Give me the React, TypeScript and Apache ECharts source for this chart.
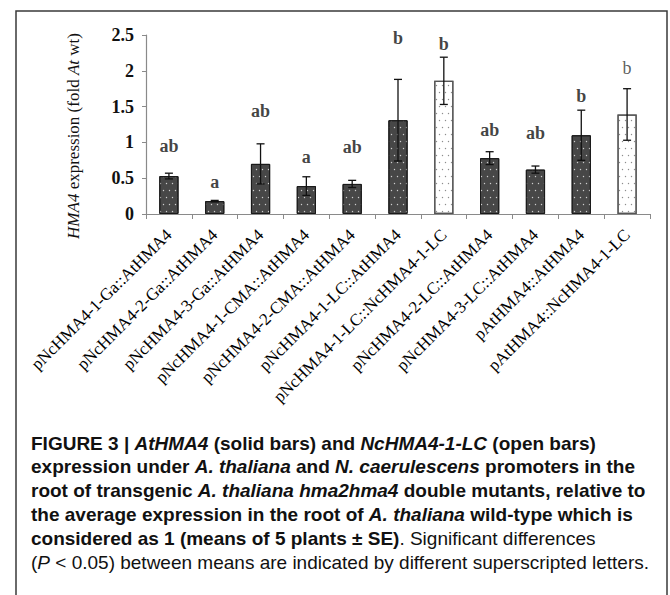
import React, { useEffect, useRef } from "react";
import * as echarts from "echarts";

// Transgenic constructs (promoter::coding sequence)
const constructs = [
  "pNcHMA4-1-Ga::AtHMA4",
  "pNcHMA4-2-Ga::AtHMA4",
  "pNcHMA4-3-Ga::AtHMA4",
  "pNcHMA4-1-CMA::AtHMA4",
  "pNcHMA4-2-CMA::AtHMA4",
  "pNcHMA4-1-LC::AtHMA4",
  "pNcHMA4-1-LC::NcHMA4-1-LC",
  "pNcHMA4-2-LC::AtHMA4",
  "pNcHMA4-3-LC::AtHMA4",
  "pAtHMA4::AtHMA4",
  "pAtHMA4::NcHMA4-1-LC",
];

// HMA4 expression, fold of A. thaliana wild type (mean of 5 plants)
const meanExpression = [0.53, 0.18, 0.7, 0.39, 0.42, 1.31, 1.86, 0.78, 0.62, 1.1, 1.39];
// Standard error of the mean
const standardError = [0.04, 0.01, 0.28, 0.13, 0.05, 0.57, 0.33, 0.09, 0.05, 0.35, 0.36];
// Significance groups (P < 0.05) and the height at which each letter sits
const groupLetters = ["ab", "a", "ab", "a", "ab", "b", "b", "ab", "ab", "b", "b"];
const letterHeights = [0.95, 0.45, 1.44, 0.8, 0.94, 2.46, 2.37, 1.18, 1.13, 1.65, 2.04];

// Y axis range
const yMin = 0;
const yMax = 2.5;
const yStep = 0.5;

// Open bars: constructs expressing NcHMA4-1-LC
const isOpenBar = constructs.map((c) => c.endsWith("::NcHMA4-1-LC"));

const SERIF = "'Liberation Serif', 'Times New Roman', serif";
const SANS = "'Liberation Sans', Arial, Helvetica, sans-serif";
const CAPTION_SIZE = 19;

const captionRich = {
  b: { fontFamily: SANS, fontSize: CAPTION_SIZE, fontWeight: "bold", fill: "#111" },
  bi: { fontFamily: SANS, fontSize: CAPTION_SIZE, fontWeight: "bold", fontStyle: "italic", fill: "#111" },
  r: { fontFamily: SANS, fontSize: CAPTION_SIZE, fontWeight: "normal", fill: "#111" },
  ri: { fontFamily: SANS, fontSize: CAPTION_SIZE, fontWeight: "normal", fontStyle: "italic", fill: "#111" },
};

const captionLines = [
  "{b|FIGURE 3 | }{bi|AtHMA4}{b| (solid bars) and }{bi|NcHMA4-1-LC}{b| (open bars)}",
  "{b|expression under }{bi|A. thaliana}{b| and }{bi|N. caerulescens}{b| promoters in the}",
  "{b|root of transgenic }{bi|A. thaliana hma2hma4}{b| double mutants, relative to}",
  "{b|the average expression in the root of }{bi|A. thaliana}{b| wild-type which is}",
  "{b|considered as 1 (means of 5 plants ± SE)}{r|. Significant differences}",
  "{r|(}{ri|P}{r| < 0.05) between means are indicated by different superscripted letters.}",
];

export default function App() {
  const ref = useRef<HTMLDivElement>(null);

  useEffect(() => {
    if (!ref.current) return;
    const chart = echarts.init(ref.current, null, { renderer: "svg" });

    const solidDecal = {
      symbol: "circle",
      symbolSize: 0.45,
      dashArrayX: [[3, 3], [0, 3, 3, 0]],
      dashArrayY: [3, 4],
      color: "rgba(255,255,255,0.75)",
    };
    const openDecal = {
      symbol: "circle",
      symbolSize: 0.45,
      dashArrayX: [[3, 3], [0, 3, 3, 0]],
      dashArrayY: [3, 4],
      color: "rgba(110,110,110,0.8)",
    };

    const barData = meanExpression.map((v, i) => ({
      value: v,
      itemStyle: isOpenBar[i]
        ? { color: "#ffffff", borderColor: "#555", borderWidth: 1.2, decal: openDecal }
        : { color: "#474747", borderColor: "#1a1a1a", borderWidth: 1, decal: solidDecal },
    }));

    const errorData = meanExpression.map((v, i) => [i, v - standardError[i], v + standardError[i]]);

    const letterData = groupLetters.map((t, i) => ({
      value: [i, letterHeights[i]],
      label: {
        fontWeight: i === groupLetters.length - 1 ? "normal" : "bold",
        color: i === groupLetters.length - 1 ? "#333" : "#111",
      },
    }));

    const yTitle = {
      type: "text",
      x: 73,
      y: 136,
      rotation: Math.PI / 2,
      style: {
        text: "{i|HMA4}{n| expression (fold }{i|At}{n| wt)}",
        align: "center",
        verticalAlign: "middle",
        rich: {
          i: { fontFamily: SERIF, fontSize: 17, fontStyle: "italic", fill: "#111" },
          n: { fontFamily: SERIF, fontSize: 17, fill: "#111" },
        },
      },
    };

    const captionGraphics = captionLines.map((line, k) => ({
      type: "text",
      x: 31,
      y: 443 + k * 23.8,
      style: { text: line, rich: captionRich, verticalAlign: "middle", align: "left" },
    }));

    chart.setOption({
      animation: false,
      backgroundColor: "#ffffff",
      grid: { left: 146, right: 20, top: 35, bottom: 381, containLabel: false },
      xAxis: {
        type: "category",
        data: constructs,
        axisLine: { lineStyle: { color: "#8a8a8a", width: 1.2 } },
        axisTick: { show: true, length: 5, lineStyle: { color: "#8a8a8a" } },
        axisLabel: {
          interval: 0,
          rotate: 45,
          margin: 18,
          fontFamily: SERIF,
          fontSize: 17,
          color: "#000",
        },
        splitLine: { show: false },
      },
      yAxis: {
        type: "value",
        min: yMin,
        max: yMax,
        interval: yStep,
        axisLine: { show: true, lineStyle: { color: "#8a8a8a", width: 1.2 } },
        axisTick: { show: true, length: 4, lineStyle: { color: "#8a8a8a" } },
        axisLabel: {
          margin: 12,
          fontFamily: SERIF,
          fontSize: 18,
          fontWeight: "bold",
          color: "#111",
        },
        splitLine: { show: false },
      },
      series: [
        {
          type: "bar",
          data: barData,
          barWidth: "42%",
          silent: true,
          z: 2,
        },
        {
          type: "custom",
          data: errorData,
          silent: true,
          z: 3,
          renderItem: (_params: any, api: any) => {
            const idx = api.value(0);
            const top = api.coord([idx, api.value(2)]);
            const bot = api.coord([idx, api.value(1)]);
            const half = 4;
            const style = { stroke: "#111", lineWidth: 1.3 };
            return {
              type: "group",
              children: [
                { type: "line", shape: { x1: top[0], y1: top[1], x2: bot[0], y2: bot[1] }, style },
                { type: "line", shape: { x1: top[0] - half, y1: top[1], x2: top[0] + half, y2: top[1] }, style },
                { type: "line", shape: { x1: bot[0] - half, y1: bot[1], x2: bot[0] + half, y2: bot[1] }, style },
              ],
            };
          },
        },
        {
          type: "scatter",
          data: letterData,
          symbolSize: 0,
          silent: true,
          clip: false,
          label: {
            show: true,
            position: "inside",
            formatter: (p: any) => groupLetters[p.dataIndex],
            fontFamily: SERIF,
            fontSize: 18,
          },
        },
      ],
      graphic: [
        {
          type: "rect",
          shape: { x: 16, y: 11, width: 651, height: 620 },
          style: { fill: "none", stroke: "#3a3a3a", lineWidth: 1.5 },
          silent: true,
        },
        yTitle,
        ...captionGraphics,
      ],
    });

    return () => chart.dispose();
  }, []);

  return (
    <div
      ref={ref}
      style={{ position: "fixed", left: 0, top: 0, width: 670, height: 595, background: "#fff" }}
    />
  );
}
